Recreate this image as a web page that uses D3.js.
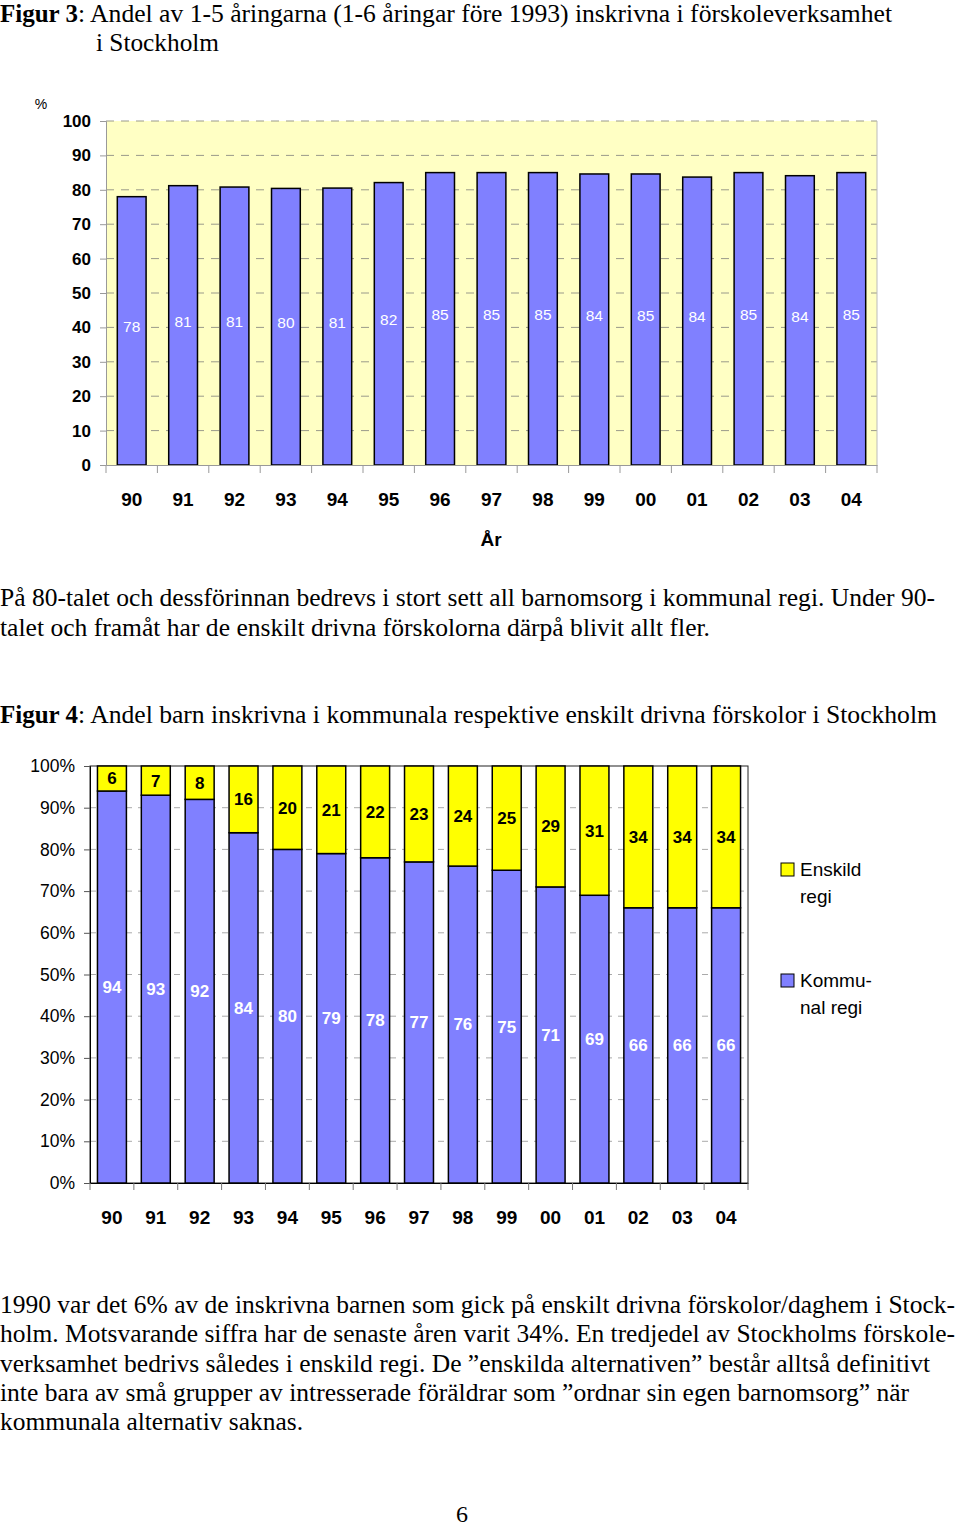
<!DOCTYPE html>
<html>
<head>
<meta charset="utf-8">
<script src="https://cdn.jsdelivr.net/npm/d3@7"></script>
<style>
  body { margin: 0; background: #fff; }
  svg { display: block; }
</style>
</head>
<body>
<svg id="page" width="960" height="1528"></svg>
<script>
// Data
const years = ["90", "91", "92", "93", "94", "95", "96", "97", "98", "99", "00", "01", "02", "03", "04"];

// Figur 3: share of 1-5 year olds enrolled (%)
const enrolled = [78, 81.2, 80.8, 80.4, 80.5, 82.1, 85, 85, 85, 84.6, 84.6, 83.7, 85, 84.1, 85];
const enrolledLabels = [78, 81, 81, 80, 81, 82, 85, 85, 85, 84, 85, 84, 85, 84, 85];
const topTicks = [0, 10, 20, 30, 40, 50, 60, 70, 80, 90, 100];

// Figur 4: kommunal vs enskild regi (%)
const kommunal = [94, 93, 92, 84, 80, 79, 78, 77, 76, 75, 71, 69, 66, 66, 66];
const enskild = [6, 7, 8, 16, 20, 21, 22, 23, 24, 25, 29, 31, 34, 34, 34];
const bottomTicks = [0, 10, 20, 30, 40, 50, 60, 70, 80, 90, 100];

// Page text
const title3 = ": Andel av 1-5 åringarna (1-6 åringar före 1993) inskrivna i förskoleverksamhet";
const title3b = "i Stockholm";
const para1 = [
  "På 80-talet och dessförinnan bedrevs i stort sett all barnomsorg i kommunal regi. Under 90-",
  "talet och framåt har de enskilt drivna förskolorna därpå blivit allt fler."
];
const title4 = ": Andel barn inskrivna i kommunala respektive enskilt drivna förskolor i Stockholm";
const para2 = [
  "1990 var det 6% av de inskrivna barnen som gick på enskilt drivna förskolor/daghem i Stock-",
  "holm. Motsvarande siffra har de senaste åren varit 34%. En tredjedel av Stockholms förskole-",
  "verksamhet bedrivs således i enskild regi. De ”enskilda alternativen” består alltså definitivt",
  "inte bara av små grupper av intresserade föräldrar som ”ordnar sin egen barnomsorg” när",
  "kommunala alternativ saknas."
];

const blue = "#8080ff";
const yellow = "#ffff00";
const serif = "'Liberation Serif', 'Times New Roman', serif";
const sans = "'Liberation Sans', Arial, sans-serif";

const svg = d3.select("#page");

// ---------- body text ----------
function textLine(x, y, str, endX, bold) {
  const t = svg.append("text")
    .attr("x", x).attr("y", y)
    .attr("font-family", serif)
    .attr("font-size", 25)
    .attr("font-weight", bold ? "bold" : "normal")
    .attr("fill", "#000")
    .text(str);
  if (endX) t.attr("textLength", endX - x).attr("lengthAdjust", "spacingAndGlyphs");
  return t;
}

// bold "Figur n" followed by the regular caption, squeezed to end at endX
function figureTitle(y, label, rest, endX) {
  const b = textLine(0, y, label, null, true);
  const w = b.node().getComputedTextLength();
  textLine(w, y, rest, endX);
}

figureTitle(22, "Figur 3", title3, 892);
textLine(96, 51, title3b, 219);

const para1Ends = [935, 710];
para1.forEach((s, i) => textLine(0, 606 + i * 30, s, para1Ends[i]));

figureTitle(723, "Figur 4", title4, 937);

const para2Ends = [955, 955, 930, 909, 303];
para2.forEach((s, i) => textLine(0, 1313 + i * 29.3, s, para2Ends[i]));

svg.append("text")
  .attr("x", 462).attr("y", 1522)
  .attr("text-anchor", "middle")
  .attr("font-family", serif).attr("font-size", 24)
  .text("6");

// ---------- Figur 3 ----------
const area3 = { left: 106, right: 877, top: 121, bottom: 465 };

const x3 = d3.scaleBand()
  .domain(years)
  .range([area3.left, area3.right])
  .paddingInner(0.44)
  .paddingOuter(0.22);

const y3 = d3.scaleLinear()
  .domain([0, 100])
  .range([area3.bottom, area3.top]);

const g3 = svg.append("g");

g3.append("rect")
  .attr("x", area3.left).attr("y", area3.top)
  .attr("width", area3.right - area3.left)
  .attr("height", area3.bottom - area3.top)
  .attr("fill", "#ffffc4");

// dashed gridlines
g3.selectAll(".grid3")
  .data(topTicks.filter(d => d > 0))
  .enter().append("line")
  .attr("x1", area3.left).attr("x2", area3.right)
  .attr("y1", d => y3(d)).attr("y2", d => y3(d))
  .attr("stroke", "#9a9a8a")
  .attr("stroke-width", 1)
  .attr("stroke-dasharray", "8,7");

g3.append("line")
  .attr("x1", area3.right).attr("x2", area3.right)
  .attr("y1", area3.top).attr("y2", area3.bottom)
  .attr("stroke", "#bbb");

g3.selectAll(".bar3")
  .data(enrolled)
  .enter().append("rect")
  .attr("x", (d, i) => x3(years[i]))
  .attr("y", d => y3(d))
  .attr("width", x3.bandwidth())
  .attr("height", d => y3(0) - y3(d))
  .attr("fill", blue)
  .attr("stroke", "#000")
  .attr("stroke-width", 1.5);

g3.selectAll(".lab3")
  .data(enrolled)
  .enter().append("text")
  .attr("x", (d, i) => x3(years[i]) + x3.bandwidth() / 2)
  .attr("y", d => (y3(d) + y3(0)) / 2 - 4)
  .attr("dy", "0.35em")
  .attr("text-anchor", "middle")
  .attr("font-family", sans).attr("font-size", 15.5)
  .attr("fill", "#fff")
  .text((d, i) => enrolledLabels[i]);

// y axis
const yAxis3 = g3.append("g")
  .attr("transform", `translate(${area3.left},0)`)
  .call(d3.axisLeft(y3).tickValues(topTicks).tickSize(6).tickPadding(9));
yAxis3.select(".domain").attr("stroke", "#999");
yAxis3.selectAll(".tick line").attr("stroke", "#999");
yAxis3.selectAll("text")
  .attr("font-family", sans).attr("font-size", 17).attr("font-weight", "bold").attr("fill", "#000");

// x axis: labels at centres, ticks at category boundaries
const xAxis3 = g3.append("g")
  .attr("transform", `translate(0,${area3.bottom})`)
  .call(d3.axisBottom(x3).tickSize(0).tickPadding(28));
xAxis3.select(".domain").attr("stroke", "#999");
xAxis3.selectAll("text")
  .attr("font-family", sans).attr("font-size", 19).attr("font-weight", "bold").attr("fill", "#000");

g3.selectAll(".xt3")
  .data(years.concat(["end"]))
  .enter().append("line")
  .attr("x1", (d, i) => area3.left + i * x3.step())
  .attr("x2", (d, i) => area3.left + i * x3.step())
  .attr("y1", area3.bottom).attr("y2", area3.bottom + 8)
  .attr("stroke", "#999");

g3.append("text")
  .attr("x", 41).attr("y", 109)
  .attr("text-anchor", "middle")
  .attr("font-family", sans).attr("font-size", 14)
  .text("%");

g3.append("text")
  .attr("x", 491).attr("y", 546)
  .attr("text-anchor", "middle")
  .attr("font-family", sans).attr("font-size", 19).attr("font-weight", "bold")
  .text("År");

// ---------- Figur 4 ----------
const area4 = { left: 90, right: 748, top: 766, bottom: 1183 };

const x4 = d3.scaleBand()
  .domain(years)
  .range([area4.left, area4.right])
  .paddingInner(0.34)
  .paddingOuter(0.17);

const y4 = d3.scaleLinear()
  .domain([0, 100])
  .range([area4.bottom, area4.top]);

const g4 = svg.append("g");

g4.selectAll(".grid4")
  .data(bottomTicks.filter(d => d > 0 && d < 100))
  .enter().append("line")
  .attr("x1", area4.left).attr("x2", area4.right)
  .attr("y1", d => y4(d)).attr("y2", d => y4(d))
  .attr("stroke", "#aaa")
  .attr("stroke-dasharray", "6,6");

g4.append("rect")
  .attr("x", area4.left).attr("y", area4.top)
  .attr("width", area4.right - area4.left)
  .attr("height", area4.bottom - area4.top)
  .attr("fill", "none")
  .attr("stroke", "#222");

const stacked = d3.stack().keys(["kommunal", "enskild"])(
  years.map((yr, i) => ({ year: yr, kommunal: kommunal[i], enskild: enskild[i] }))
);
const fills = { kommunal: blue, enskild: yellow };

stacked.forEach(layer => {
  g4.selectAll(".bar-" + layer.key)
    .data(layer)
    .enter().append("rect")
    .attr("x", d => x4(d.data.year))
    .attr("y", d => y4(d[1]))
    .attr("width", x4.bandwidth())
    .attr("height", d => y4(d[0]) - y4(d[1]))
    .attr("fill", fills[layer.key])
    .attr("stroke", "#000")
    .attr("stroke-width", 1.5);

  g4.selectAll(".lab-" + layer.key)
    .data(layer)
    .enter().append("text")
    .attr("x", d => x4(d.data.year) + x4.bandwidth() / 2)
    .attr("y", d => (y4(d[0]) + y4(d[1])) / 2)
    .attr("dy", "0.35em")
    .attr("text-anchor", "middle")
    .attr("font-family", sans).attr("font-size", 17).attr("font-weight", "bold")
    .attr("fill", layer.key === "kommunal" ? "#fff" : "#000")
    .text(d => d.data[layer.key]);
});

const yAxis4 = g4.append("g")
  .attr("transform", `translate(${area4.left},0)`)
  .call(d3.axisLeft(y4).tickValues(bottomTicks).tickSize(6).tickPadding(9).tickFormat(d => d + "%"));
yAxis4.select(".domain").attr("stroke", "#000");
yAxis4.selectAll(".tick line").attr("stroke", "#555");
yAxis4.selectAll("text")
  .attr("font-family", sans).attr("font-size", 17.5).attr("fill", "#000");

const xAxis4 = g4.append("g")
  .attr("transform", `translate(0,${area4.bottom})`)
  .call(d3.axisBottom(x4).tickSize(0).tickPadding(28));
xAxis4.select(".domain").attr("stroke", "#000");
xAxis4.selectAll("text")
  .attr("font-family", sans).attr("font-size", 19).attr("font-weight", "bold").attr("fill", "#000");

g4.selectAll(".xt4")
  .data(years.concat(["end"]))
  .enter().append("line")
  .attr("x1", (d, i) => area4.left + i * x4.step())
  .attr("x2", (d, i) => area4.left + i * x4.step())
  .attr("y1", area4.bottom).attr("y2", area4.bottom + 7)
  .attr("stroke", "#777");

// legend
const legend = [
  { name: "Enskild", name2: "regi", color: yellow, y: 863 },
  { name: "Kommu-", name2: "nal regi", color: blue, y: 974 }
];
const lg = g4.selectAll(".legend")
  .data(legend)
  .enter().append("g")
  .attr("transform", d => `translate(781,${d.y})`);
lg.append("rect")
  .attr("width", 13).attr("height", 13)
  .attr("fill", d => d.color)
  .attr("stroke", "#000");
lg.append("text")
  .attr("x", 19).attr("y", 13)
  .attr("font-family", sans).attr("font-size", 19)
  .text(d => d.name);
lg.append("text")
  .attr("x", 19).attr("y", 40)
  .attr("font-family", sans).attr("font-size", 19)
  .text(d => d.name2);
</script>
</body>
</html>
